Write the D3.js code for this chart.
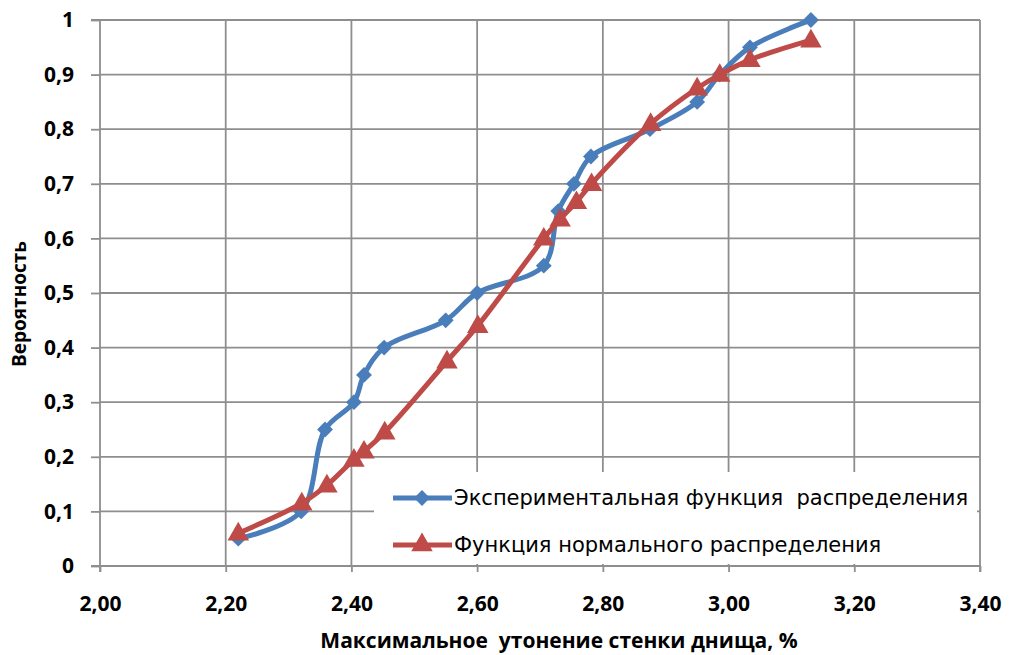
<!DOCTYPE html>
<html>
<head>
<meta charset="utf-8">
<script src="https://cdnjs.cloudflare.com/ajax/libs/d3/7.8.5/d3.min.js"></script>
<style>
  html, body { margin: 0; padding: 0; background: #fff; }
  svg { display: block; }
</style>
</head>
<body>
<svg id="chart" width="1013" height="655"></svg>
<script>
// Экспериментальная функция распределения
const expX = [2.22, 2.32, 2.358, 2.404, 2.42, 2.452, 2.55, 2.60, 2.706, 2.729, 2.754, 2.781, 2.875, 2.95, 2.986, 3.034, 3.131];
const expY = [0.05, 0.10, 0.25, 0.30, 0.35, 0.40, 0.45, 0.50, 0.55, 0.65, 0.70, 0.75, 0.80, 0.85, 0.90, 0.95, 1.00];

// Функция нормального распределения
const normX = [2.22, 2.321, 2.361, 2.404, 2.42, 2.453, 2.552, 2.601, 2.706, 2.732, 2.758, 2.782, 2.876, 2.95, 2.986, 3.034, 3.131];
const normY = [0.06, 0.115, 0.148, 0.195, 0.21, 0.245, 0.375, 0.44, 0.60, 0.635, 0.667, 0.70, 0.81, 0.875, 0.90, 0.927, 0.963];

const xTicks = [2.0, 2.2, 2.4, 2.6, 2.8, 3.0, 3.2, 3.4];
const yTicks = [0, 0.1, 0.2, 0.3, 0.4, 0.5, 0.6, 0.7, 0.8, 0.9, 1];

const seriesNames = ["Экспериментальная функция  распределения", "Функция нормального распределения"];
const xTitle = "Максимальное  утонение стенки днища, %";
const yTitle = "Вероятность";

const svg = d3.select("#chart");
const plotL = 100, plotR = 980, plotT = 20, plotB = 566;

const x = d3.scaleLinear().domain([2.0, 3.4]).range([plotL, plotR]);
const y = d3.scaleLinear().domain([0, 1]).range([plotB, plotT]);

const fmt = v => d3.format(".2f")(v).replace(".", ",");
const fmtY = v => (v === 0 || v === 1) ? String(v) : String(v).replace(".", ",");

const gridColor = "#8e8e8e";
const boldFont = "'Open Sans', 'Liberation Sans', Arial, sans-serif";

// сетка
const grid = svg.append("g");
grid.selectAll("line.h").data(yTicks.filter(d => d > 0)).enter().append("line")
  .attr("x1", plotL).attr("x2", plotR)
  .attr("y1", d => y(d)).attr("y2", d => y(d))
  .attr("stroke", gridColor).attr("stroke-width", 1.8);
grid.selectAll("line.v").data(xTicks.filter(d => d > 2.0)).enter().append("line")
  .attr("x1", d => x(d)).attr("x2", d => x(d))
  .attr("y1", plotT).attr("y2", plotB)
  .attr("stroke", gridColor).attr("stroke-width", 1.8);

// оси
const xAxis = d3.axisBottom(x).tickValues(xTicks).tickFormat(fmt).tickSize(6).tickPadding(24);
const yAxis = d3.axisLeft(y).tickValues(yTicks).tickFormat(fmtY).tickSize(9).tickPadding(17);

const gx = svg.append("g").attr("transform", `translate(0,${plotB})`).call(xAxis);
const gy = svg.append("g").attr("transform", `translate(${plotL},0)`).call(yAxis);
[gx, gy].forEach(g => {
  g.select(".domain").attr("stroke", gridColor).attr("stroke-width", 1.8);
  g.selectAll(".tick line").attr("stroke", gridColor).attr("stroke-width", 1.8);
  g.selectAll(".tick text").attr("fill", "#000").style("font-family", boldFont)
    .style("font-weight", "bold").style("font-size", "21px");
});
gx.select(".domain").attr("d", `M${plotL},6V0H${plotR}V6`);
gy.select(".domain").attr("d", `M-9,${plotT}H0V${plotB}H-9`);

// ряды
const line = d3.line().x(d => x(d[0])).y(d => y(d[1])).curve(d3.curveCatmullRom.alpha(0.5));
const blue = "#4a7ebb", red = "#be4b48";
const expPts = expX.map((v, i) => [v, expY[i]]);
const normPts = normX.map((v, i) => [v, normY[i]]);

const diamond = d3.symbol().type(d3.symbolDiamond2).size(160);
const triangle = d3.symbol().type(d3.symbolTriangle).size(200);

svg.append("path").datum(expPts).attr("d", line).attr("fill", "none")
  .attr("stroke", blue).attr("stroke-width", 5).attr("stroke-linejoin", "round");
svg.append("g").selectAll("path").data(expPts).enter().append("path")
  .attr("d", diamond).attr("transform", d => `translate(${x(d[0])},${y(d[1])})`).attr("fill", blue);

svg.append("path").datum(normPts).attr("d", line).attr("fill", "none")
  .attr("stroke", red).attr("stroke-width", 5).attr("stroke-linejoin", "round");
svg.append("g").selectAll("path").data(normPts).enter().append("path")
  .attr("d", triangle).attr("transform", d => `translate(${x(d[0])},${y(d[1]) + 1})`).attr("fill", red);

// легенда
const lg = svg.append("g");
lg.append("rect").attr("x", 374).attr("y", 472).attr("width", 603).attr("height", 92).attr("fill", "#fff");
const rows = [
  { name: seriesNames[0], color: blue, sym: diamond, yy: 498 },
  { name: seriesNames[1], color: red, sym: triangle, yy: 545 }
];
rows.forEach(r => {
  lg.append("line").attr("x1", 393).attr("x2", 452).attr("y1", r.yy).attr("y2", r.yy)
    .attr("stroke", r.color).attr("stroke-width", 5);
  lg.append("path").attr("d", r.sym).attr("transform", `translate(422,${r.yy})`).attr("fill", r.color);
  lg.append("text").attr("x", 454).attr("y", r.yy + 7).text(r.name)
    .style("font-family", "'DejaVu Sans', Verdana, sans-serif").style("font-size", "21px")
    .style("white-space", "pre").attr("fill", "#000");
});

// подписи осей
svg.append("text").attr("x", 559).attr("y", 648).attr("text-anchor", "middle").text(xTitle)
  .style("font-family", boldFont).style("font-weight", "bold").style("font-size", "21px").style("white-space", "pre");
svg.append("text").attr("transform", "translate(26,304) rotate(-90)").attr("text-anchor", "middle").text(yTitle)
  .style("font-family", boldFont).style("font-weight", "bold").style("font-size", "19px");
</script>
</body>
</html>
